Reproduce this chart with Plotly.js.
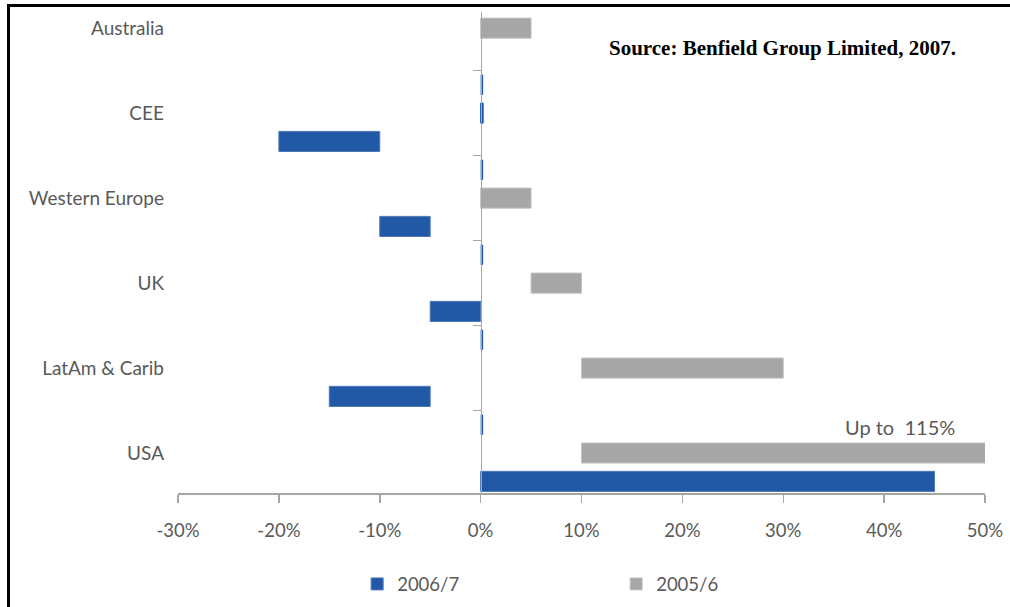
<!DOCTYPE html>
<html>
<head>
<meta charset="utf-8">
<script src="https://cdn.plot.ly/plotly-3.0.1.min.js"></script>
<style>
  html, body { margin: 0; padding: 0; background: #fff; }
  #wrap { position: relative; width: 1010px; height: 607px; overflow: hidden; }
  #chart { position: absolute; left: 0; top: 0; width: 1010px; height: 607px; }
  #frame { position: absolute; left: 7px; top: 4px; right: -10px; bottom: -10px;
           border-left: 3px solid #000; border-top: 3px solid #000; pointer-events: none; }
</style>
</head>
<body>
<div id="wrap">
  <div id="chart"></div>
  <div id="frame"></div>
</div>
<script>
// Regions, top to bottom
const categories = ['Australia', 'CEE', 'Western Europe', 'UK', 'LatAm & Carib', 'USA'];

// Rate change ranges (%), start and end of each floating bar
const change2006Start = [null, -20, -10, -5, -15, 0];
const change2006End   = [null, -10,  -5,  0,  -5, 45];
const change2005Start = [0, 0,    0,  5, 10,  10];
const change2005End   = [5, 0.25, 5, 10, 30, 115];
// Thin unchanged rows drawn just above each region's pair
const flatStart = [null, 0,    0,    0,    0,    0];
const flatEnd   = [null, 0.25, 0.25, 0.25, 0.25, 0.25];

const xRange = [-30, 50];
const xTickVals = [-30, -20, -10, 0, 10, 20, 30, 40, 50];
const xTickText = ['-30%', '-20%', '-10%', '0%', '10%', '20%', '30%', '40%', '50%'];

const BLUE = '#2159A6';
const BLUE_EDGE = '#4f78b8';
const GREY = '#A6A6A6';
const GREY_EDGE = '#c4c4c4';
const TEXT = '#595959';
const AXIS = '#a6a6a6';
const FONT = 'Lato, "Open Sans", sans-serif';

const span = (s, e) => s.map((v, i) => (v === null || e[i] === null) ? null : e[i] - v);
const isFlat = (s, e) => s.map((v, i) => v !== null && e[i] - v < 1);

const flat2005 = isFlat(change2005Start, change2005End);

const traces = [
  {
    type: 'bar', orientation: 'h', name: 'flat',
    y: categories, base: flatStart, x: span(flatStart, flatEnd),
    marker: { color: BLUE, line: { width: 0 } },
    showlegend: false, hoverinfo: 'skip'
  },
  {
    type: 'bar', orientation: 'h', name: '2005/6', legendrank: 2,
    y: categories, base: change2005Start, x: span(change2005Start, change2005End),
    marker: {
      color: flat2005.map(f => f ? BLUE : GREY),
      line: { width: 1, color: flat2005.map(f => f ? BLUE : GREY_EDGE) }
    }
  },
  {
    type: 'bar', orientation: 'h', name: '2006/7', legendrank: 1,
    y: categories, base: change2006Start, x: span(change2006Start, change2006End),
    marker: { color: BLUE, line: { width: 1, color: BLUE_EDGE } }
  },
  {
    // carries the axis drawn through 0%
    type: 'scatter', mode: 'markers', x: categories.map(() => null), y: categories,
    yaxis: 'y2', showlegend: false, hoverinfo: 'skip'
  }
];

const yRange = [5.47, -0.19];

const layout = {
  width: 1010, height: 607,
  margin: { l: 178, r: 25, t: 12, b: 114, autoexpand: false },
  paper_bgcolor: 'rgba(0,0,0,0)', plot_bgcolor: 'rgba(0,0,0,0)',
  font: { family: FONT, color: TEXT, size: 18 },
  barmode: 'group', bargap: 0, bargroupgap: 0.29,
  showlegend: true,
  legend: {
    orientation: 'h', x: 0.222, xanchor: 'left', y: -0.19, yanchor: 'middle',
    entrywidth: 214, entrywidthmode: 'pixels',
    font: { family: FONT, size: 18.5, color: TEXT }, itemwidth: 30
  },
  xaxis: {
    range: xRange, tickmode: 'array', tickvals: xTickVals, ticktext: xTickText,
    ticks: 'outside', ticklen: 8, tickwidth: 1.5, tickcolor: AXIS,
    showline: true, linecolor: AXIS, linewidth: 1.5,
    showgrid: false, zeroline: false, ticklabelstandoff: 12,
    tickfont: { family: FONT, size: 18.5, color: TEXT }
  },
  yaxis: {
    type: 'category', categoryorder: 'array', categoryarray: categories,
    range: yRange, showline: false, ticks: '', showgrid: false, zeroline: false,
    ticklabelstandoff: 13,
    tickfont: { family: FONT, size: 19, color: TEXT }
  },
  yaxis2: {
    type: 'category', categoryorder: 'array', categoryarray: categories,
    overlaying: 'y', anchor: 'free', side: 'left',
    position: (0 - xRange[0]) / (xRange[1] - xRange[0]),
    range: yRange, showline: true, linecolor: AXIS, linewidth: 1.5,
    ticks: 'outside', ticklen: 8, tickwidth: 1.5, tickcolor: AXIS, tickson: 'boundaries',
    showticklabels: false, showgrid: false, zeroline: false
  },
  annotations: [
    {
      xref: 'paper', yref: 'paper', x: 0.5316, y: 0.925, xanchor: 'left', yanchor: 'middle',
      text: '<b>Source: Benfield Group Limited, 2007.</b>', showarrow: false,
      font: { family: '"Liberation Serif", "Times New Roman", serif', size: 21, color: '#000' }
    },
    {
      xref: 'paper', yref: 'paper', x: 0.9653, y: 0.137, xanchor: 'right', yanchor: 'middle',
      text: 'Up to&nbsp;&nbsp;115%', showarrow: false,
      font: { family: FONT, size: 20, color: TEXT }
    }
  ]
};

Plotly.newPlot('chart', traces, layout, { displayModeBar: false, staticPlot: true });
</script>
</body>
</html>
